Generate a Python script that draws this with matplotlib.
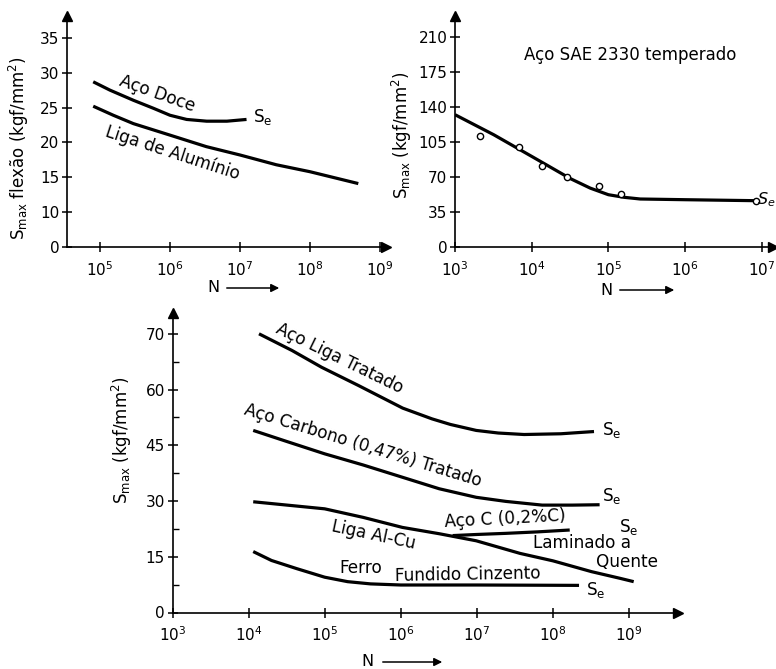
import numpy as np
import matplotlib
matplotlib.use("Agg")
import matplotlib.pyplot as plt
from matplotlib.ticker import FixedLocator, NullFormatter, NullLocator

plt.rcParams['font.family'] = ['DejaVu Sans']
plt.rcParams['mathtext.default'] = 'regular'

# ---------------- data ----------------
# Panel 1 (top-left): flexão
doce_N = [8.0e4, 1.39e5, 3.0e5, 5.8e5, 1.0e6, 1.73e6, 3.34e6, 6.5e6, 1.24e7]
doce_S = [28.7, 27.5, 26.05, 24.9, 23.9, 23.3, 23.05, 23.05, 23.3]
alum_N = [8.0e4, 1.55e5, 3.0e5, 1.0e6, 3.3e6, 1.0e7, 3.3e7, 1.0e8, 4.9e8]
alum_S = [25.2, 23.9, 22.7, 21.05, 19.4, 18.2, 16.8, 15.8, 14.1]
p1_yticks = [5, 10, 15, 20, 25, 30, 35]
p1_ylabels = ['0', '10', '15', '20', '25', '30', '35']
p1_xticks = [1e5, 1e6, 1e7, 1e8, 1e9]

# Panel 2 (top-right): Aço SAE 2330 temperado
sae_N = [1e3, 3.2e3, 1.0e4, 3.2e4, 5.8e4, 1.0e5, 1.6e5, 2.6e5, 1.0e6, 8.5e6]
sae_S = [132.6, 112.5, 90.8, 68.5, 59.0, 52.4, 49.8, 48.1, 47.4, 46.4]
sae_pts_N = [2.1e3, 6.8e3, 1.35e4, 2.9e4, 7.6e4, 1.45e5, 8.5e6]
sae_pts_S = [111.5, 100.2, 81.5, 69.8, 60.8, 53.4, 46.4]
p2_yticks = [0, 35, 70, 105, 140, 175, 210]
p2_xticks = [1e3, 1e4, 1e5, 1e6, 1e7]

# Panel 3 (bottom)
liga_N = [1.37e4, 3.73e4, 9.1e4, 2.77e5, 1.06e6, 2.58e6, 4.5e6, 9.8e6, 1.91e7, 4.17e7, 1.27e8, 3.46e8]
liga_S = [75.0, 70.5, 66.0, 61.1, 55.0, 52.1, 50.6, 49.0, 48.3, 47.9, 48.1, 48.7]
carb_N = [1.15e4, 3.2e4, 1.0e5, 3.2e5, 1.05e6, 3.2e6, 9.8e6, 2.4e7, 7.2e7, 1.8e8, 4.1e8]
carb_S = [49.0, 46.0, 42.7, 39.7, 36.4, 33.3, 31.0, 29.9, 28.9, 28.9, 29.0]
alcu_N = [1.15e4, 1.0e5, 3.2e5, 1.05e6, 3.2e6, 9.8e6, 3.7e7, 1.0e8, 3.2e8, 7.6e8, 1.15e9]
alcu_S = [29.8, 27.9, 25.6, 22.9, 21.2, 19.3, 15.9, 13.9, 11.0, 9.2, 8.3]
acoc_N = [4.8e6, 1.0e7, 2.4e7, 6.3e7, 1.66e8]
acoc_S = [20.7, 21.0, 21.3, 21.7, 22.2]
ferro_N = [1.15e4, 2.0e4, 4.3e4, 1.0e5, 2.0e5, 4.0e5, 1.0e6, 1.0e7, 2.2e8]
ferro_S = [16.4, 14.0, 11.8, 9.5, 8.3, 7.7, 7.4, 7.4, 7.3]
p3_yticks = [0, 15, 30, 45, 60, 75]
p3_ylabels = ['0', '15', '30', '45', '60', '70']
p3_yminor = [7.5, 22.5, 37.5, 52.5, 67.5]
p3_xticks = [1e3, 1e4, 1e5, 1e6, 1e7, 1e8, 1e9]

# ---------------- figure ----------------
W, H = 776, 669
fig = plt.figure(figsize=(W / 100, H / 100), dpi=100)
FS = 11      # tick labels
TS = 12.2    # annotations
LW = 2.3


def px_axes(left, right, top, bottom):
    return fig.add_axes([left / W, 1 - bottom / H, (right - left) / W, (bottom - top) / H])


def style(ax, xlim, ylim):
    ax.set_xscale('log')
    ax.set_xlim(*xlim)
    ax.set_ylim(*ylim)
    for s in ['top', 'right']:
        ax.spines[s].set_visible(False)
    for s in ['left', 'bottom']:
        ax.spines[s].set_linewidth(1.2)
    ax.patch.set_alpha(0)
    ax.plot(1, 0, '>', color='k', ms=7, transform=ax.transAxes, clip_on=False)
    ax.plot(0, 1, '^', color='k', ms=7, transform=ax.transAxes, clip_on=False)
    ax.tick_params(axis='both', which='major', direction='inout', length=7, width=1.1,
                   labelsize=FS, pad=2)
    ax.tick_params(axis='x', pad=6)
    ax.tick_params(axis='both', which='minor', direction='in', length=4, width=1.0)
    ax.xaxis.set_minor_locator(NullLocator())
    ax.xaxis.set_minor_formatter(NullFormatter())


def log_labels(ticks):
    return [r'$10^{%d}$' % round(np.log10(t)) for t in ticks]


def ftext(x, y, s, rot=0, size=TS, **kw):
    kw.setdefault('ha', 'center')
    kw.setdefault('va', 'center')
    fig.text(x / W, 1 - y / H, s, rotation=rot, rotation_mode='anchor', fontsize=size, **kw)


def n_arrow(xn, y, x0, x1):
    ftext(xn, y, 'N', size=11.5)
    fig.add_artist(matplotlib.patches.FancyArrowPatch(
        (x0 / W, 1 - y / H), (x1 / W, 1 - y / H), transform=fig.transFigure,
        arrowstyle='-|>', mutation_scale=12, color='k', lw=1.1))


# ---- panel 1 ----
ax1 = px_axes(67, 386, 16, 247)
style(ax1, (10 ** 4.5286, 10 ** 9.086), (5, 38.14))
ax1.plot(doce_N, doce_S, color='k', lw=LW, solid_capstyle='butt', solid_joinstyle='round')
ax1.plot(alum_N, alum_S, color='k', lw=LW, solid_capstyle='butt', solid_joinstyle='round')
ax1.xaxis.set_major_locator(FixedLocator(p1_xticks))
ax1.set_xticklabels(log_labels(p1_xticks))
ax1.yaxis.set_major_locator(FixedLocator(p1_yticks))
ax1.set_yticklabels(p1_ylabels)
ftext(157, 94, 'Aço Doce', rot=-19.5)
ftext(263, 117, '$S_e$')
ftext(173, 153, 'Liga de Alumínio', rot=-18)
ftext(19, 148, r'$S_{max}$ flexão (kgf/mm$^2$)', rot=90, size=12)
n_arrow(213, 288, 224, 282)

# ---- panel 2 ----
ax2 = px_axes(455, 773, 16, 247)
style(ax2, (1e3, 10 ** 7.146), (0, 231.5))
ax2.plot(sae_N, sae_S, color='k', lw=LW, solid_capstyle='butt', solid_joinstyle='round')
ax2.plot(sae_pts_N, sae_pts_S, 'o', mfc='white', mec='k', ms=4.5, mew=1.0, clip_on=False)
ax2.xaxis.set_major_locator(FixedLocator(p2_xticks))
ax2.set_xticklabels(log_labels(p2_xticks))
ax2.yaxis.set_major_locator(FixedLocator(p2_yticks))
ax2.set_yticklabels([str(v) for v in p2_yticks])
ftext(630, 55, 'Aço SAE 2330 temperado', size=12)
ftext(757, 200, '$S_e$', ha='left', style='italic', size=11.5)
ftext(402, 135, r'$S_{max}$ (kgf/mm$^2$)', rot=90, size=12)
n_arrow(606, 290, 617, 677)

# ---- panel 3 ----
ax3 = px_axes(172.5, 678, 313, 612.5)
style(ax3, (1e3, 10 ** 9.643), (0, 80.6))
for n, s in [(liga_N, liga_S), (carb_N, carb_S), (alcu_N, alcu_S),
             (acoc_N, acoc_S), (ferro_N, ferro_S)]:
    ax3.plot(n, s, color='k', lw=LW, solid_capstyle='butt', solid_joinstyle='round')
ax3.xaxis.set_major_locator(FixedLocator(p3_xticks))
ax3.set_xticklabels(log_labels(p3_xticks))
ax3.yaxis.set_major_locator(FixedLocator(p3_yticks))
ax3.set_yticklabels(p3_ylabels)
ax3.yaxis.set_minor_locator(FixedLocator(p3_yminor))
ftext(340, 358, 'Aço Liga Tratado', rot=-26)
ftext(602, 430, '$S_e$', ha='left')
ftext(362.5, 446, 'Aço Carbono (0,47%) Tratado', rot=-17)
ftext(602, 496, '$S_e$', ha='left')
ftext(374, 535, 'Liga Al-Cu', rot=-12)
ftext(505, 519, 'Aço C (0,2%C)', rot=3)
ftext(619, 527, '$S_e$', ha='left')
ftext(582, 543.3, 'Laminado a')
ftext(627, 561.7, 'Quente')
ftext(361, 568.3, 'Ferro')
ftext(468, 575, 'Fundido Cinzento', rot=1)
ftext(586, 590, '$S_e$', ha='left')
ftext(122, 440, r'$S_{max}$ (kgf/mm$^2$)', rot=90, size=12)
n_arrow(367, 662, 380, 445)

fig.savefig('out.png', dpi=100)
